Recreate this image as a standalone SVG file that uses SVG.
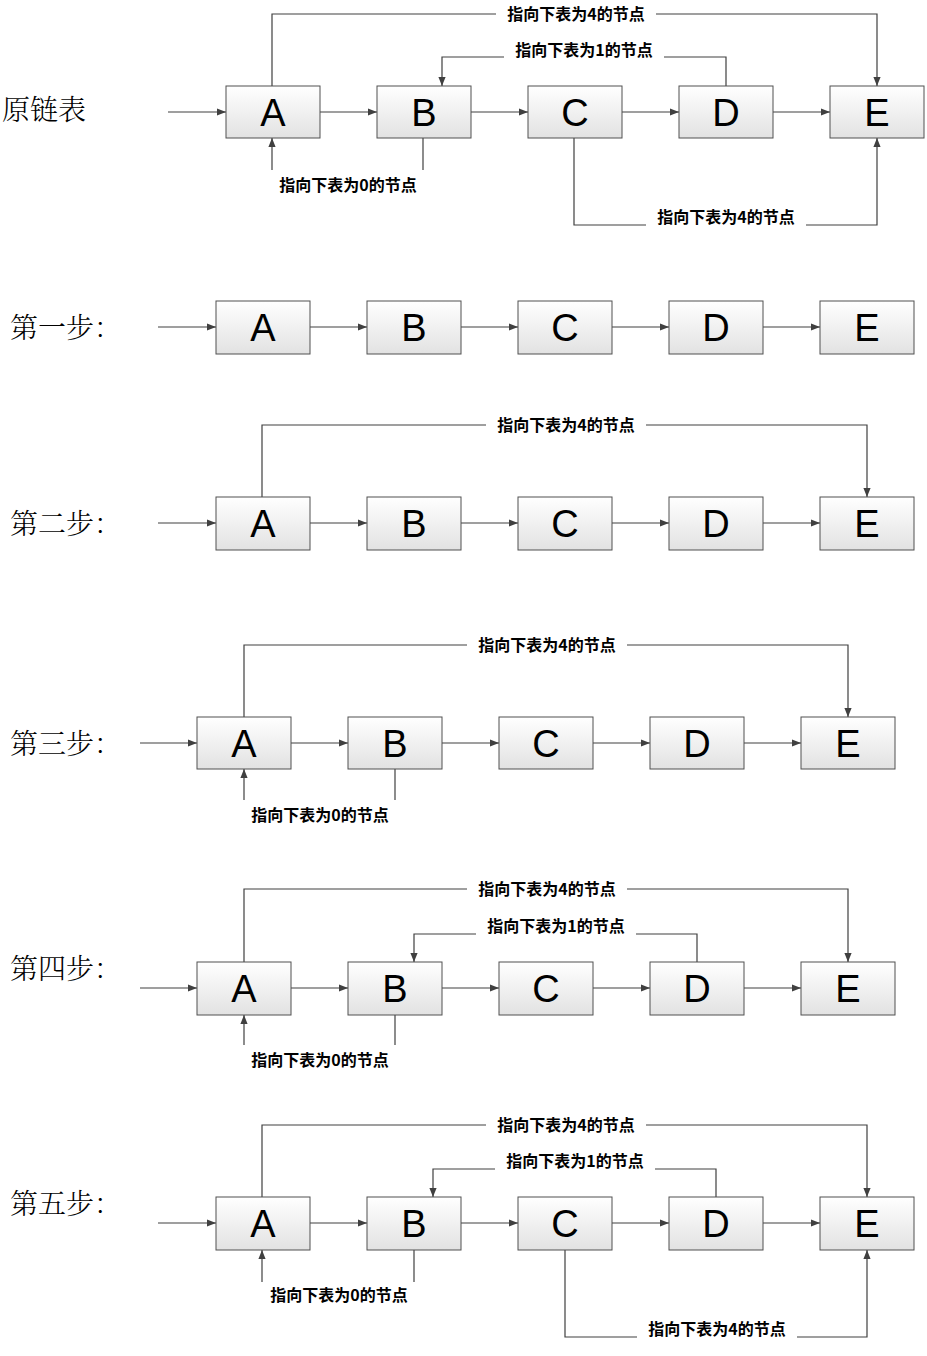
<svg xmlns="http://www.w3.org/2000/svg" width="927" height="1356" viewBox="0 0 927 1356">
<defs>
<linearGradient id="g" x1="0" y1="0" x2="0" y2="1"><stop offset="0" stop-color="#ffffff"/><stop offset="1" stop-color="#e2e2e2"/></linearGradient>
<marker id="ar" viewBox="0 0 10 10" refX="10" refY="5" markerWidth="9" markerHeight="9" markerUnits="userSpaceOnUse" orient="auto"><path d="M0,1 L10,5 L0,9 z" fill="#404040"/></marker>
<style>
.n rect{fill:url(#g);stroke:#505050;stroke-width:1}
.n text{font-family:"Liberation Sans",Arial,sans-serif;font-size:38px;text-anchor:middle;fill:#000}
.c path{fill:none;stroke:#404040;stroke-width:1.2}
.a{marker-end:url(#ar)}
.lb{font-family:"Noto Sans CJK SC",sans-serif;font-weight:bold;font-size:16px;text-anchor:middle;fill:#000}
.lbg{fill:#fff}
.rt{font-family:"Noto Serif CJK SC","Noto Sans CJK SC",serif;font-size:28px;font-weight:300;fill:#000}
</style>
</defs>
<rect width="927" height="1356" fill="#fff"/>
<text class="rt" x="2" y="120">原链表</text>
<text class="rt" x="10" y="338">第一步：</text>
<text class="rt" x="10" y="534">第二步：</text>
<text class="rt" x="10" y="754">第三步：</text>
<text class="rt" x="10" y="979">第四步：</text>
<text class="rt" x="10" y="1214">第五步：</text>

<g class="c">
<!-- row0 -->
<path class="a" d="M168,112H226"/><path class="a" d="M320,112H377"/><path class="a" d="M471,112H528"/><path class="a" d="M622,112H679"/><path class="a" d="M773,112H830"/>
<path class="a" d="M272,86V14H877V86"/>
<path class="a" d="M726,86V57H442V86"/>
<path d="M423,138V170"/><path class="a" d="M272,170V138"/>
<path class="a" d="M574,138V225H877V138"/>
<!-- row1 -->
<path class="a" d="M158,327H216"/><path class="a" d="M310,327H367"/><path class="a" d="M461,327H518"/><path class="a" d="M612,327H669"/><path class="a" d="M763,327H820"/>
<!-- row2 -->
<path class="a" d="M158,523H216"/><path class="a" d="M310,523H367"/><path class="a" d="M461,523H518"/><path class="a" d="M612,523H669"/><path class="a" d="M763,523H820"/>
<path class="a" d="M262,497V425H867V497"/>
<!-- row3 -->
<path class="a" d="M140,743H197"/><path class="a" d="M291,743H348"/><path class="a" d="M442,743H499"/><path class="a" d="M593,743H650"/><path class="a" d="M744,743H801"/>
<path class="a" d="M244,717V645H848V717"/>
<path d="M395,769V800"/><path class="a" d="M244,800V769"/>
<!-- row4 -->
<path class="a" d="M140,988H197"/><path class="a" d="M291,988H348"/><path class="a" d="M442,988H499"/><path class="a" d="M593,988H650"/><path class="a" d="M744,988H801"/>
<path class="a" d="M244,962V889H848V962"/>
<path class="a" d="M697,962V934H414V962"/>
<path d="M395,1015V1045"/><path class="a" d="M244,1045V1015"/>
<!-- row5 -->
<path class="a" d="M158,1223H216"/><path class="a" d="M310,1223H367"/><path class="a" d="M461,1223H518"/><path class="a" d="M612,1223H669"/><path class="a" d="M763,1223H820"/>
<path class="a" d="M262,1197V1125H867V1197"/>
<path class="a" d="M716,1197V1169H433V1197"/>
<path d="M414,1250V1282"/><path class="a" d="M262,1282V1250"/>
<path class="a" d="M565,1250V1337H867V1250"/>
</g>

<g id="labels">
<rect class="lbg" x="496" y="4" width="160" height="20"/><text class="lb" x="576" y="20">指向下表为4的节点</text>
<rect class="lbg" x="504" y="40" width="160" height="20"/><text class="lb" x="584" y="56">指向下表为1的节点</text>
<text class="lb" x="348" y="191">指向下表为0的节点</text>
<rect class="lbg" x="646" y="207" width="160" height="20"/><text class="lb" x="726" y="223">指向下表为4的节点</text>
<rect class="lbg" x="486" y="415" width="160" height="20"/><text class="lb" x="566" y="431">指向下表为4的节点</text>
<rect class="lbg" x="467" y="635" width="160" height="20"/><text class="lb" x="547" y="651">指向下表为4的节点</text>
<text class="lb" x="320" y="821">指向下表为0的节点</text>
<rect class="lbg" x="467" y="879" width="160" height="20"/><text class="lb" x="547" y="895">指向下表为4的节点</text>
<rect class="lbg" x="476" y="916" width="160" height="20"/><text class="lb" x="556" y="932">指向下表为1的节点</text>
<text class="lb" x="320" y="1066">指向下表为0的节点</text>
<rect class="lbg" x="486" y="1115" width="160" height="20"/><text class="lb" x="566" y="1131">指向下表为4的节点</text>
<rect class="lbg" x="495" y="1151" width="160" height="20"/><text class="lb" x="575" y="1167">指向下表为1的节点</text>
<text class="lb" x="339" y="1301">指向下表为0的节点</text>
<rect class="lbg" x="637" y="1319" width="160" height="20"/><text class="lb" x="717" y="1335">指向下表为4的节点</text>
</g>

<g id="r0A" class="n"><rect x="226" y="86" width="94" height="52"/><text x="273" y="126">A</text></g>
<g id="r0B" class="n"><rect x="377" y="86" width="94" height="52"/><text x="424" y="126">B</text></g>
<g id="r0C" class="n"><rect x="528" y="86" width="94" height="52"/><text x="575" y="126">C</text></g>
<g id="r0D" class="n"><rect x="679" y="86" width="94" height="52"/><text x="726" y="126">D</text></g>
<g id="r0E" class="n"><rect x="830" y="86" width="94" height="52"/><text x="877" y="126">E</text></g>

<g id="r1A" class="n"><rect x="216" y="301" width="94" height="53"/><text x="263" y="341">A</text></g>
<g id="r1B" class="n"><rect x="367" y="301" width="94" height="53"/><text x="414" y="341">B</text></g>
<g id="r1C" class="n"><rect x="518" y="301" width="94" height="53"/><text x="565" y="341">C</text></g>
<g id="r1D" class="n"><rect x="669" y="301" width="94" height="53"/><text x="716" y="341">D</text></g>
<g id="r1E" class="n"><rect x="820" y="301" width="94" height="53"/><text x="867" y="341">E</text></g>

<g id="r2A" class="n"><rect x="216" y="497" width="94" height="53"/><text x="263" y="537">A</text></g>
<g id="r2B" class="n"><rect x="367" y="497" width="94" height="53"/><text x="414" y="537">B</text></g>
<g id="r2C" class="n"><rect x="518" y="497" width="94" height="53"/><text x="565" y="537">C</text></g>
<g id="r2D" class="n"><rect x="669" y="497" width="94" height="53"/><text x="716" y="537">D</text></g>
<g id="r2E" class="n"><rect x="820" y="497" width="94" height="53"/><text x="867" y="537">E</text></g>

<g id="r3A" class="n"><rect x="197" y="717" width="94" height="52"/><text x="244" y="757">A</text></g>
<g id="r3B" class="n"><rect x="348" y="717" width="94" height="52"/><text x="395" y="757">B</text></g>
<g id="r3C" class="n"><rect x="499" y="717" width="94" height="52"/><text x="546" y="757">C</text></g>
<g id="r3D" class="n"><rect x="650" y="717" width="94" height="52"/><text x="697" y="757">D</text></g>
<g id="r3E" class="n"><rect x="801" y="717" width="94" height="52"/><text x="848" y="757">E</text></g>

<g id="r4A" class="n"><rect x="197" y="962" width="94" height="53"/><text x="244" y="1002">A</text></g>
<g id="r4B" class="n"><rect x="348" y="962" width="94" height="53"/><text x="395" y="1002">B</text></g>
<g id="r4C" class="n"><rect x="499" y="962" width="94" height="53"/><text x="546" y="1002">C</text></g>
<g id="r4D" class="n"><rect x="650" y="962" width="94" height="53"/><text x="697" y="1002">D</text></g>
<g id="r4E" class="n"><rect x="801" y="962" width="94" height="53"/><text x="848" y="1002">E</text></g>

<g id="r5A" class="n"><rect x="216" y="1197" width="94" height="53"/><text x="263" y="1237">A</text></g>
<g id="r5B" class="n"><rect x="367" y="1197" width="94" height="53"/><text x="414" y="1237">B</text></g>
<g id="r5C" class="n"><rect x="518" y="1197" width="94" height="53"/><text x="565" y="1237">C</text></g>
<g id="r5D" class="n"><rect x="669" y="1197" width="94" height="53"/><text x="716" y="1237">D</text></g>
<g id="r5E" class="n"><rect x="820" y="1197" width="94" height="53"/><text x="867" y="1237">E</text></g>
</svg>
